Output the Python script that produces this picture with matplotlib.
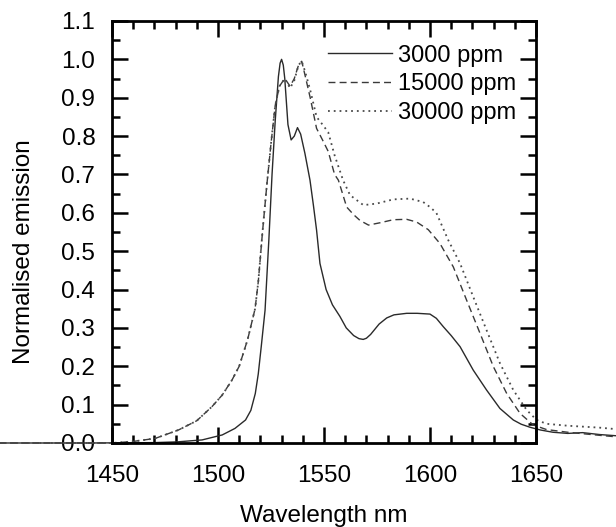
import matplotlib
matplotlib.use("Agg")
import matplotlib.pyplot as plt
from matplotlib.ticker import MultipleLocator

plt.rcParams['font.family'] = ['Liberation Sans', 'DejaVu Sans']

# 3000 ppm (solid)
wl_3000 = [1395, 1440, 1470, 1481, 1492.5, 1502, 1508, 1513, 1515.5, 1517.6, 1519, 1520.4,
           1522.2, 1524, 1525.5, 1527, 1528.5, 1529.3, 1530, 1530.8, 1531.5, 1533, 1534.5,
           1536, 1537.5, 1539, 1541, 1543.4, 1545, 1546.5, 1548.1, 1551, 1554, 1557.5,
           1560.5, 1564, 1566.5, 1568.5, 1570, 1572, 1576, 1579.6, 1583, 1589, 1594, 1600,
           1603, 1606.3, 1610, 1614.2, 1620.4, 1626.7, 1633, 1639.3, 1643, 1647.2, 1652,
           1658, 1665, 1672, 1680, 1690]
em_3000 = [0.0, 0.0, 0.001, 0.003, 0.008, 0.021, 0.038, 0.06, 0.085, 0.129, 0.18, 0.251,
           0.346, 0.53, 0.70, 0.84, 0.955, 0.99, 1.0, 0.985, 0.95, 0.83, 0.79,
           0.80, 0.822, 0.805, 0.755, 0.685, 0.62, 0.555, 0.468, 0.40, 0.36, 0.33,
           0.30, 0.28, 0.272, 0.27, 0.273, 0.283, 0.31, 0.326, 0.334, 0.338, 0.338, 0.336,
           0.325, 0.303, 0.28, 0.251, 0.19, 0.138, 0.09, 0.06, 0.049, 0.041, 0.034,
           0.028, 0.025, 0.027, 0.022, 0.018]

# 15000 ppm (dashed)
wl_15000 = [1395, 1450, 1460, 1470.4, 1481.4, 1490, 1497.2, 1502, 1506.6, 1510, 1514,
            1517.5, 1519, 1521, 1523, 1525, 1527, 1529, 1531.5, 1534, 1536, 1538,
            1539.5, 1541, 1543.5, 1546.5, 1549.3, 1552, 1555, 1556.8, 1560.7, 1564,
            1567, 1571, 1576.4, 1582.7, 1589, 1593.7, 1599.2, 1604.7, 1611, 1617.3,
            1623.6, 1629.9, 1636.2, 1642.5, 1648.7, 1655, 1665, 1680, 1690]
em_15000 = [0.0, 0.0, 0.004, 0.012, 0.034, 0.058, 0.095, 0.125, 0.164, 0.20, 0.27,
            0.35, 0.42, 0.55, 0.67, 0.78, 0.88, 0.93, 0.95, 0.93, 0.95, 0.985,
            0.995, 0.96, 0.90, 0.82, 0.79, 0.76, 0.70, 0.685, 0.615, 0.595,
            0.58, 0.568, 0.574, 0.582, 0.583, 0.576, 0.556, 0.52, 0.459, 0.372,
            0.286, 0.199, 0.129, 0.077, 0.047, 0.035, 0.028, 0.02, 0.015]

# 30000 ppm (dotted)
wl_30000 = [1395, 1450, 1460, 1470.4, 1481.4, 1490, 1497.2, 1502, 1506.6, 1510, 1514,
            1517.5, 1519, 1521, 1523, 1525, 1527, 1529, 1531.5, 1534, 1536, 1538,
            1539.5, 1541, 1543.5, 1546.5, 1549.3, 1552, 1555, 1559, 1562.3, 1568.6,
            1574.8, 1582.7, 1590.6, 1596.8, 1600, 1603, 1608.6, 1614.2, 1620.4,
            1626.7, 1633, 1639.3, 1645.6, 1650.3, 1655, 1665, 1680, 1690]
em_30000 = [0.0, 0.0, 0.004, 0.012, 0.034, 0.058, 0.095, 0.125, 0.164, 0.20, 0.27,
            0.35, 0.42, 0.55, 0.67, 0.78, 0.88, 0.93, 0.95, 0.925, 0.945, 0.985,
            0.995, 0.97, 0.92, 0.85, 0.83, 0.81, 0.75, 0.685, 0.646, 0.62,
            0.624, 0.635, 0.637, 0.628, 0.615, 0.60, 0.529, 0.468, 0.381,
            0.294, 0.208, 0.138, 0.086, 0.06, 0.05, 0.045, 0.04, 0.035]

labels = ['3000 ppm', '15000 ppm', '30000 ppm']
x_ticks = [1450, 1500, 1550, 1600, 1650]
y_ticks = [0.0, 0.1, 0.2, 0.3, 0.4, 0.5, 0.6, 0.7, 0.8, 0.9, 1.0, 1.1]

fig = plt.figure(figsize=(6.16, 5.27), dpi=100)
ax = fig.add_axes([0.1818, 0.1594, 0.6883, 0.8008])

ax.plot(wl_3000, em_3000, color='#2a2a2a', lw=1.0, ls='-', label=labels[0], clip_on=False)
ax.plot(wl_15000, em_15000, color='#3a3a3a', lw=1.0, ls=(0, (5, 3)), label=labels[1], clip_on=False)
ax.plot(wl_30000, em_30000, color='#4a4a4a', lw=1.3, ls=(0, (1, 2.2)), label=labels[2], clip_on=False)

ax.set_xlim(1450, 1650)
ax.set_ylim(0.0, 1.1)
ax.set_xticks(x_ticks)
ax.set_yticks(y_ticks)
ax.set_yticklabels([f'{v:.1f}' for v in y_ticks])
ax.xaxis.set_minor_locator(MultipleLocator(10))
ax.yaxis.set_minor_locator(MultipleLocator(0.05))

ax.tick_params(which='both', direction='in', top=True, right=True, width=1.8, colors='black')
ax.tick_params(which='major', length=11.5, labelsize=17.5)
ax.tick_params(axis='x', which='major', pad=16)
ax.tick_params(axis='y', which='major', pad=12)
ax.tick_params(which='minor', length=6)
for s in ax.spines.values():
    s.set_linewidth(2.0)

ax.set_xlabel('Wavelength nm', fontsize=17.5, labelpad=13)
ax.set_ylabel('Normalised emission', fontsize=17.5)
ax.yaxis.set_label_coords(-0.181, 0.453)

ax.legend(loc='upper right', bbox_to_anchor=(0.952, 0.944), frameon=False, fontsize=17,
          handlelength=2.7, handletextpad=0.25, labelspacing=0.28, borderpad=0, borderaxespad=0)

fig.savefig('out.png', dpi=100)
